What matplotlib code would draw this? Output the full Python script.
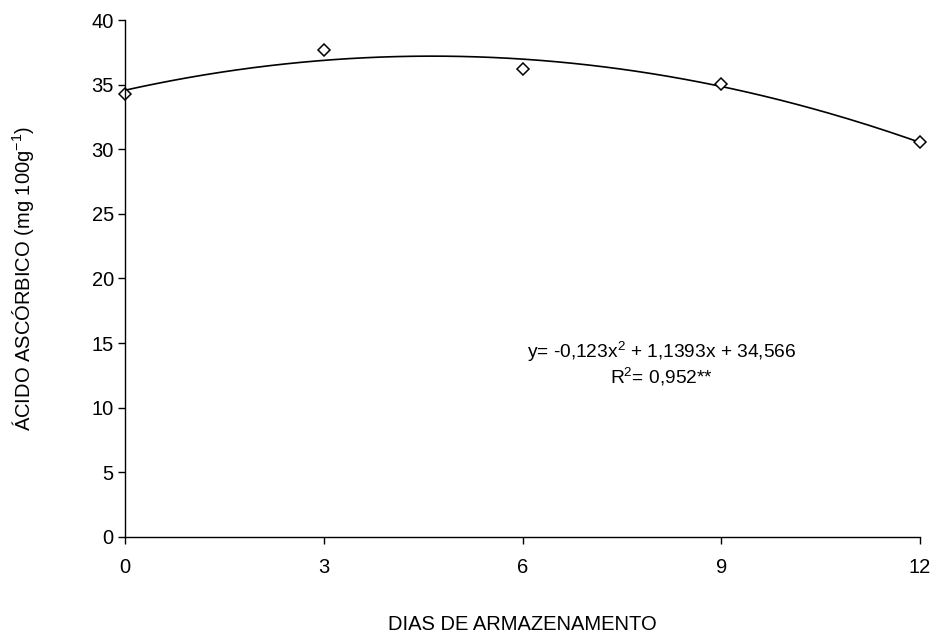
import numpy as np
import matplotlib.pyplot as plt

plt.rcParams['font.family'] = ['Liberation Sans', 'DejaVu Sans']
plt.rcParams['mathtext.fontset'] = 'custom'
plt.rcParams['mathtext.rm'] = 'Liberation Sans'
plt.rcParams['mathtext.it'] = 'Liberation Sans'

# Ascorbic acid content over storage days
dias = [0, 3, 6, 9, 12]
acido = [34.25, 37.7, 36.2, 35.05, 30.55]

# Quadratic fit coefficients
coef = [-0.123, 1.1393, 34.566]


def main():
	fig = plt.figure(figsize=(9.36, 6.37), dpi=100)
	ax = fig.add_axes([0.1335, 0.157, 0.8495, 0.8116])

	# Fitted curve
	xs = np.linspace(0, 12, 200)
	ax.plot(xs, np.polyval(coef, xs), color='black', lw=1.2)

	# Observed values
	ax.plot(dias, acido, linestyle='none', marker='D', markersize=6,
		markerfacecolor='white', markeredgecolor='black', markeredgewidth=1.1,
		clip_on=False)

	ax.set_xlim(0, 12)
	ax.set_ylim(0, 40)
	ax.set_xticks(dias)
	ax.set_yticks(range(0, 41, 5))
	ax.tick_params(labelsize=14.5, length=5, width=1, direction='out')
	ax.tick_params(axis='x', pad=10)
	ax.tick_params(axis='y', pad=3)

	for side in ['top', 'right']:
		ax.spines[side].set_visible(False)
	ax.spines['left'].set_linewidth(1)
	ax.spines['bottom'].set_linewidth(1)

	ax.set_xlabel('DIAS DE ARMAZENAMENTO', fontsize=14.5, va='center')
	ax.set_ylabel('ÁCIDO ASCÓRBICO (mg 100g$^{-1}$)', fontsize=14.5, va='center')
	ax.xaxis.set_label_coords(0.5, -0.170)
	ax.yaxis.set_label_coords(-0.128, 0.5)

	eq = 'y= -0,123x$^2$ + 1,1393x + 34,566\nR$^2$= 0,952**'
	ax.text(8.1, 13.4, eq, fontsize=13.8, ha='center', va='center',
		multialignment='center', linespacing=1.1)

	fig.savefig('out.png', dpi=100)


if __name__ == '__main__':
	main()
